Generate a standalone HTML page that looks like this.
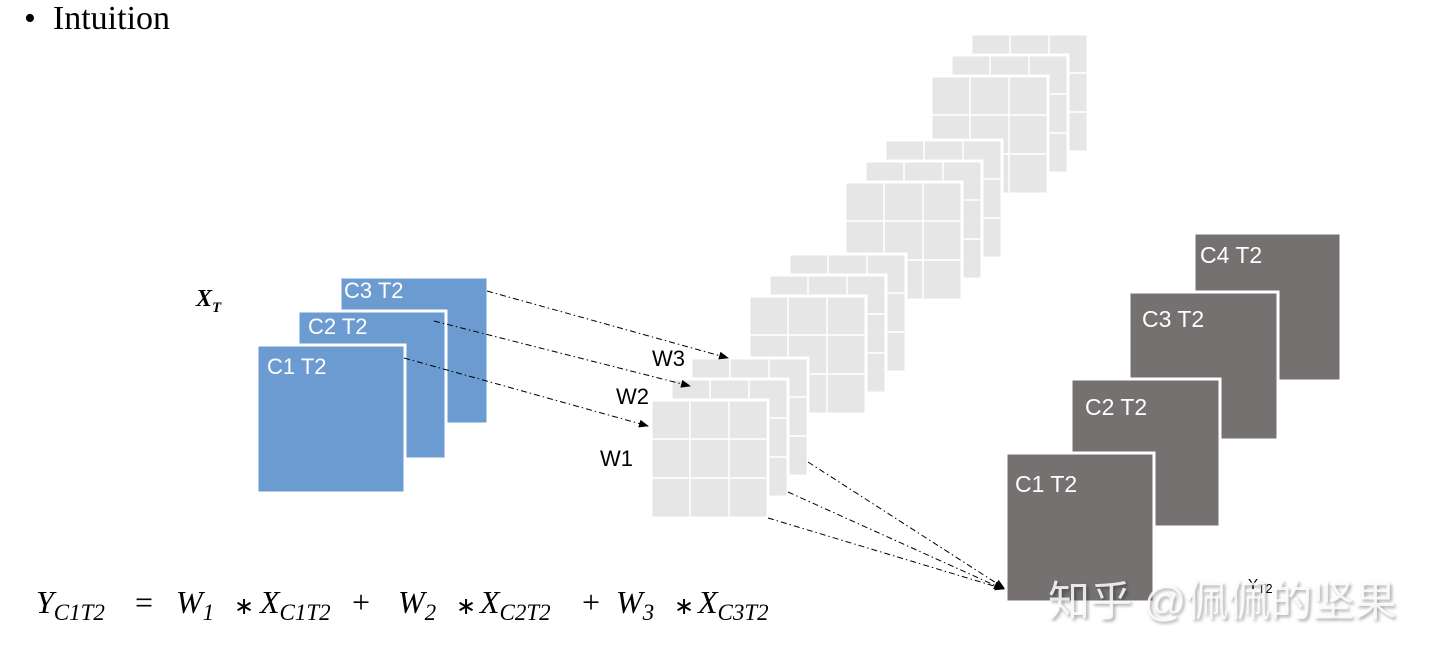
<!DOCTYPE html>
<html><head><meta charset="utf-8"><style>
body{margin:0;width:1440px;height:653px;background:#fff;overflow:hidden;position:relative;font-family:"Liberation Sans",sans-serif}
.t{position:absolute;white-space:nowrap}
.f{position:absolute;top:584px;font:italic 32px 'Liberation Serif',serif;white-space:nowrap}
.f sub{font-size:23px;vertical-align:-7px}
.n{font-style:normal}
.a{font-size:24px;top:592px}
</style></head><body>
<svg width="1440" height="653" style="position:absolute;left:0;top:0">
<defs>
<marker id="ar" markerWidth="10" markerHeight="8" refX="9" refY="4" orient="auto" markerUnits="userSpaceOnUse"><path d="M0,0 L10,4 L0,8z" fill="#000"/></marker>
<g id="sq">
<rect x="0" y="0" width="117" height="118" fill="#e6e6e6" stroke="#fff" stroke-width="3"/>
<path d="M39,0V118M78,0V118M0,39H117M0,78H117" stroke="#fff" stroke-width="1.5"/>
</g>
<g id="st">
<use href="#sq" x="40" y="-42"/><use href="#sq" x="20" y="-21"/><use href="#sq" x="0" y="0"/>
</g>
</defs>
<use href="#st" x="931" y="76"/>
<use href="#st" x="845" y="182"/>
<use href="#st" x="749" y="296"/>
<use href="#st" x="651" y="400"/>
<g fill="#6b9bd0" stroke="#fff" stroke-width="3">
<rect x="340" y="277" width="148" height="147"/>
<rect x="298" y="311" width="148" height="148"/>
<rect x="257" y="345" width="148" height="148"/>
</g>
<g fill="#757171" stroke="#fff" stroke-width="3">
<rect x="1194" y="233" width="147" height="148"/>
<rect x="1129" y="292" width="149" height="148"/>
<rect x="1071" y="379" width="149" height="148"/>
<rect x="1006" y="453" width="148" height="149"/>
</g>
<g stroke="#000" stroke-width="1" stroke-dasharray="6,3,1.5,3" fill="none" marker-end="url(#ar)">
<path d="M487,291L728,358"/>
<path d="M434,321L690,386"/>
<path d="M404,358L648,426"/>
<path d="M808,462L1004,588"/>
<path d="M788,492L1003,589"/>
<path d="M768,518L1004,589"/>
</g>
</svg>
<div class="t" style="left:24px;top:0;font:34px 'Liberation Serif',serif">•&nbsp;&nbsp;Intuition</div>
<div class="t" style="left:196px;top:286px;font:bold italic 24px 'Liberation Serif',serif">X<sub style="font-size:15px">T</sub></div>
<div class="t" style="left:344px;top:278px;color:#fff;font-size:22px">C3 T2</div>
<div class="t" style="left:308px;top:314px;color:#fff;font-size:22px">C2 T2</div>
<div class="t" style="left:267px;top:354px;color:#fff;font-size:22px">C1 T2</div>
<div class="t" style="left:652px;top:346px;font-size:22px">W3</div>
<div class="t" style="left:616px;top:384px;font-size:22px">W2</div>
<div class="t" style="left:600px;top:446px;font-size:22px">W1</div>
<div class="t" style="left:1200px;top:242px;color:#fff;font-size:23px">C4 T2</div>
<div class="t" style="left:1142px;top:306px;color:#fff;font-size:23px">C3 T2</div>
<div class="t" style="left:1085px;top:394px;color:#fff;font-size:23px">C2 T2</div>
<div class="t" style="left:1015px;top:471px;color:#fff;font-size:23px">C1 T2</div>
<div class="t" style="left:1248px;top:576px;font-size:15px">Y<sub>T2</sub></div>
<div class="t" style="left:1048px;top:568px;font:42px 'Liberation Sans','Noto Sans CJK SC',sans-serif;color:rgba(255,255,255,0.85);text-shadow:2px 2px 3px rgba(0,0,0,0.35)">知乎 @佩佩的坚果</div>
<div class="f" style="left:36px">Y<sub>C1T2</sub></div>
<div class="f n" style="left:135px">=</div>
<div class="f" style="left:176px">W<sub>1</sub></div>
<div class="f n a" style="left:234px">∗</div>
<div class="f" style="left:260px">X<sub>C1T2</sub></div>
<div class="f n" style="left:352px">+</div>
<div class="f" style="left:398px">W<sub>2</sub></div>
<div class="f n a" style="left:456px">∗</div>
<div class="f" style="left:480px">X<sub>C2T2</sub></div>
<div class="f n" style="left:582px">+</div>
<div class="f" style="left:616px">W<sub>3</sub></div>
<div class="f n a" style="left:674px">∗</div>
<div class="f" style="left:698px">X<sub>C3T2</sub></div>
</body></html>
